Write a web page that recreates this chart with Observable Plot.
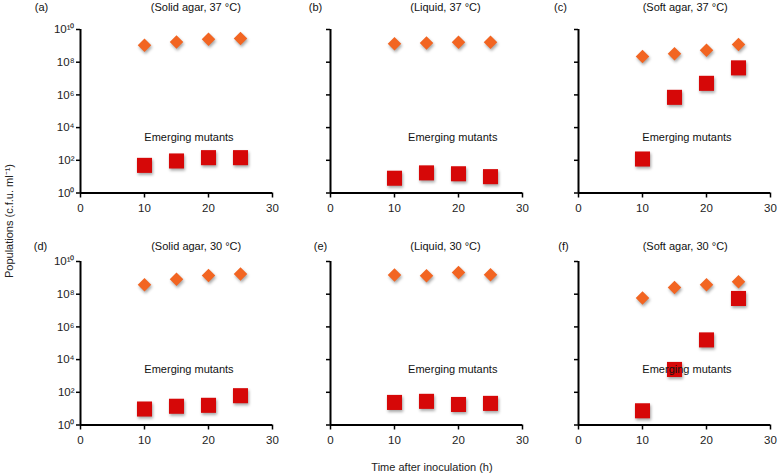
<!DOCTYPE html>
<html><head><meta charset="utf-8">
<script src="https://cdn.jsdelivr.net/npm/d3@7"></script>
<script src="https://cdn.jsdelivr.net/npm/@observablehq/plot@0.6"></script>
<style>
body{margin:0;background:#fff;}
#chart{position:relative;width:778px;height:473px;font-family:"Liberation Sans",Arial,Helvetica,sans-serif;color:#222;}
.panel{position:absolute;width:282px;height:235px;}
.lab{position:absolute;font-size:11px;white-space:nowrap;line-height:1;}
</style></head><body><div id="chart"></div>
<script>
// ---- data ----
const times = [10, 15, 20, 25];
const panelIds = ["(a)", "(b)", "(c)", "(d)", "(e)", "(f)"];
const panelTitles = ["(Solid agar, 37 °C)", "(Liquid, 37 °C)", "(Soft agar, 37 °C)",
                     "(Solid agar, 30 °C)", "(Liquid, 30 °C)", "(Soft agar, 30 °C)"];
// total population (c.f.u. ml-1), orange diamonds
const totalA = [1.1e9, 1.7e9, 2.5e9, 2.8e9];
const totalB = [1.35e9, 1.5e9, 1.65e9, 1.65e9];
const totalC = [2.2e8, 3.3e8, 5.4e8, 1.2e9];
const totalD = [3.8e8, 8.1e8, 1.4e9, 1.7e9];
const totalE = [1.5e9, 1.35e9, 2.1e9, 1.55e9];
const totalF = [5.9e7, 2.6e8, 3.8e8, 5.8e8];
// emerging mutants (c.f.u. ml-1), red squares
const mutA = [49, 91, 145, 145];
const mutB = [8, 17, 15, 10];
const mutC = [120, 7.1e5, 5.1e6, 4.5e7];
const mutD = [9.5, 14, 16, 62];
const mutE = [24, 28, 18, 21];
const mutF = [7.4, 2500, 1.6e5, 5.5e7];
const xTicks = [0, 10, 20, 30];
const yTicks = [1, 1e2, 1e4, 1e6, 1e8, 1e10];
const annotationText = "Emerging mutants";
const yLabel = "Populations (c.f.u. ml⁻¹)";
const xLabel = "Time after inoculation (h)";

const totals = [totalA, totalB, totalC, totalD, totalE, totalF];
const mutants = [mutA, mutB, mutC, mutD, mutE, mutF];

// ---- layout (styling only) ----
const colX = [80, 330, 578];
const rowTop = [29, 260.7];
const titleDy = [-21.7, -15];
const idDx = [-39, -15, -18, -40, -10, -15];
const titleDx = [115.3, 115, 106.7, 115.7, 115, 106.7];
const annX = [16.95, 19.1, 16.95, 16.95, 19.1, 16.95];
const annY = [2400, 2400, 2400, 2600, 2600, 2600];
const FONT = '"Liberation Sans", Arial, Helvetica, sans-serif';
const supDigits = "⁰¹²³⁴⁵⁶⁷⁸⁹";
const sup = d => "10" + String(Math.round(Math.log10(d))).split("").map(c => supDigits[+c]).join("");

const chart = document.getElementById("chart");

panelIds.forEach((id, i) => {
  const col = i % 3, row = Math.floor(i / 3);
  const data = times.map((t, j) => ({t, total: totals[i][j], mutant: mutants[i][j]}));
  const plot = Plot.plot({
    width: 282, height: 235,
    marginLeft: 80, marginRight: 10, marginTop: 29, marginBottom: 42.5,
    style: {background: "transparent", overflow: "visible", fontFamily: FONT, fontSize: "11px", color: "#222", maxWidth: "none"},
    x: {domain: [0, 30]},
    y: {type: "log", domain: [1, 1e10]},
    marks: [
      Plot.axisX({ticks: xTicks, tickSize: 5, tickPadding: 6, strokeWidth: 1.5, label: null, fontSize: 11.5, stroke: "#000"}),
      Plot.axisY({ticks: yTicks, tickSize: 4, tickPadding: 2, strokeWidth: 1.5, label: null, fontSize: 11.5,
                  stroke: "#000", tickFormat: col === 0 ? sup : () => null}),
      Plot.ruleX([0], {stroke: "#000", strokeWidth: 2}),
      Plot.ruleY([1], {stroke: "#000", strokeWidth: 2}),
      Plot.dot(data, {x: "t", y: "total", symbol: "diamond2", fill: "#f26522", stroke: "none", r: 6.1}),
      Plot.dot(data, {x: "t", y: "mutant", symbol: "square", fill: "#d60808", stroke: "none", r: 8.5}),
      Plot.text([annotationText], {x: annX[i], y: annY[i], text: d => d, fontSize: 11, fill: "#111"}),
      Plot.text([id], {frameAnchor: "top-left", dx: idDx[i], dy: titleDy[row], lineAnchor: "middle", textAnchor: "middle", text: d => d, fontSize: 11, fill: "#111"}),
      Plot.text([panelTitles[i]], {frameAnchor: "top-left", dx: titleDx[i], dy: titleDy[row], lineAnchor: "middle", textAnchor: "middle", text: d => d, fontSize: 11, fill: "#111"})
    ]
  });
  plot.querySelectorAll('g[aria-label="dot"]').forEach(g => {
    g.style.filter = "drop-shadow(1px 2px 1.5px rgba(0,0,0,0.35))";
  });
  const div = document.createElement("div");
  div.className = "panel";
  div.style.left = (colX[col] - 80) + "px";
  div.style.top = (rowTop[row] - 29) + "px";
  div.appendChild(plot);
  chart.appendChild(div);
});

const yl = document.createElement("div");
yl.className = "lab";
yl.textContent = yLabel;
yl.style.left = "9px"; yl.style.top = "221px";
yl.style.transform = "translate(-50%,-50%) rotate(-90deg)";
chart.appendChild(yl);

const xl = document.createElement("div");
xl.className = "lab";
xl.textContent = xLabel;
xl.style.left = "432px"; xl.style.top = "466.7px";
xl.style.fontSize = "11px";
xl.style.transform = "translate(-50%,-50%)";
chart.appendChild(xl);
</script>
</body></html>
